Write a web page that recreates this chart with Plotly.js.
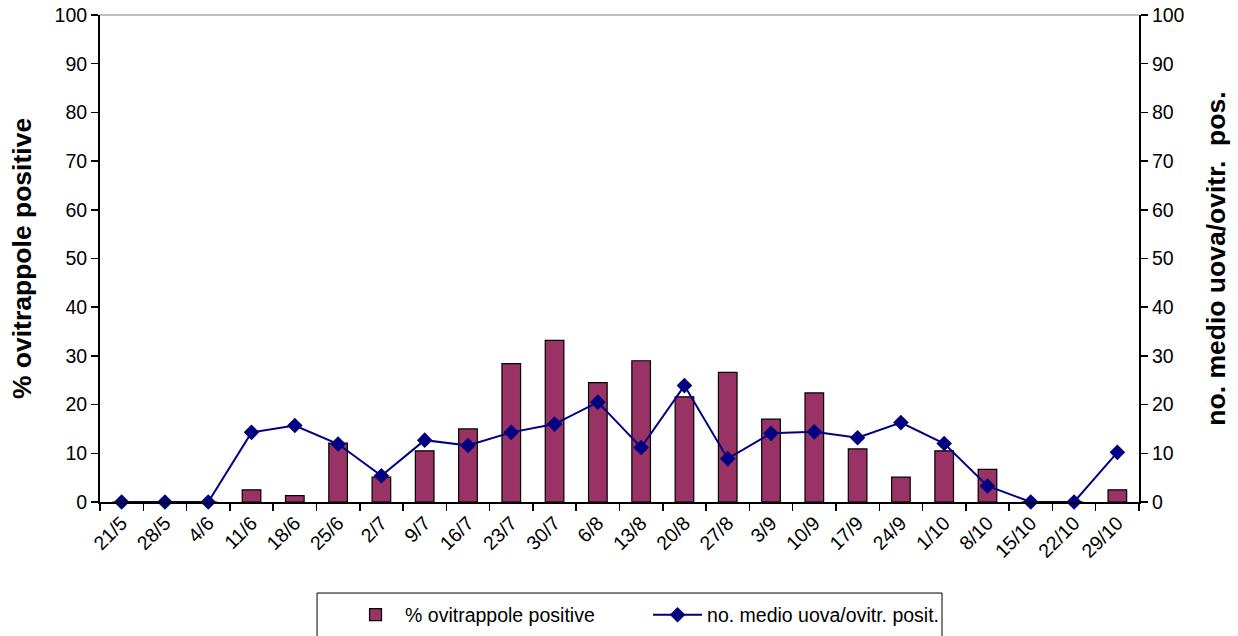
<!DOCTYPE html>
<html>
<head>
<meta charset="utf-8">
<script src="https://cdn.plot.ly/plotly-3.0.1.min.js"></script>
<style>
  html, body { margin: 0; padding: 0; background: #ffffff; }
  #chart { width: 1238px; height: 636px; }
</style>
</head>
<body>
<div id="chart"></div>
<script>
// Sampling dates (day/month)
const dates = ["21/5","28/5","4/6","11/6","18/6","25/6","2/7","9/7","16/7","23/7","30/7",
               "6/8","13/8","20/8","27/8","3/9","10/9","17/9","24/9","1/10","8/10","15/10","22/10","29/10"];
// % of positive ovitraps
const pctPositive = [0,0,0,2.5,1.3,12.1,5.1,10.5,15.0,28.4,33.2,
                     24.5,29.0,21.6,26.6,17.0,22.4,10.9,5.1,10.5,6.7,0,0,2.5];
// mean number of eggs per positive ovitrap
const meanEggs = [0,0,0,14.3,15.7,11.9,5.4,12.7,11.6,14.3,16.0,
                  20.5,11.2,23.9,8.9,14.1,14.4,13.2,16.3,12.0,3.3,0,0,10.2];
const yTicks = [0,10,20,30,40,50,60,70,80,90,100];

const font = "Liberation Sans, Arial, sans-serif";

const traces = [
  {
    type: "bar",
    name: "% ovitrappole positive",
    x: dates,
    y: pctPositive,
    marker: { color: "#993366", line: { color: "#000000", width: 1.2 } },
    yaxis: "y"
  },
  {
    type: "scatter",
    mode: "lines+markers",
    name: "no. medio uova/ovitr. posit.",
    x: dates,
    y: meanEggs,
    line: { color: "#000080", width: 2 },
    marker: { symbol: "diamond", size: 12, color: "#000080" },
    yaxis: "y2",
    cliponaxis: false
  }
];

const axisCommon = {
  ticks: "outside",
  ticklen: 7,
  tickwidth: 1.5,
  tickcolor: "#000000",
  showline: true,
  linecolor: "#000000",
  linewidth: 2,
  showgrid: false,
  automargin: false
};

const layout = {
  width: 1238,
  height: 636,
  margin: { l: 100, r: 99, t: 15, b: 134, autoexpand: false },
  paper_bgcolor: "#ffffff",
  plot_bgcolor: "#ffffff",
  font: { family: font, size: 20, color: "#000000" },
  bargap: 0.57,
  showlegend: true,
  legend: {
    orientation: "h",
    x: 0.2368, xanchor: "left",
    y: -0.192, yanchor: "top",
    borderwidth: 0,
    bgcolor: "rgba(0,0,0,0)",
    font: { family: font, size: 19.5, color: "#000000" },
    itemwidth: 49,
    entrywidth: 238
  },
  shapes: [
    // thin grey top edge of the plot area
    { type: "line", xref: "paper", yref: "paper", x0: 0, x1: 1, y0: 1, y1: 1,
      line: { color: "#808080", width: 1 } },
    // legend frame
    { type: "rect", xref: "paper", yref: "paper", x0: 0.2089, x1: 0.8104, y0: -0.1869, y1: -0.32,
      line: { color: "#000000", width: 1 }, fillcolor: "rgba(0,0,0,0)" }
  ],
  xaxis: Object.assign({}, axisCommon, {
    type: "category",
    range: [-0.5, dates.length - 0.5],
    tickangle: -45,
    tickson: "boundaries",
    tickfont: { family: font, size: 19.5 }
  }),
  yaxis: Object.assign({}, axisCommon, {
    range: [0, 100],
    tickvals: yTicks,
    zeroline: false,
    tickfont: { family: font, size: 19.5 },
    title: { text: "% ovitrappole positive", font: { family: font, size: 26.5, weight: "bold" }, standoff: 15 }
  }),
  yaxis2: Object.assign({}, axisCommon, {
    overlaying: "y",
    side: "right",
    range: [0, 100],
    tickvals: yTicks,
    zeroline: false,
    tickfont: { family: font, size: 19.5 },
    title: { text: "no. medio uova/ovitr.  pos.", font: { family: font, size: 26.5, weight: "bold" }, standoff: 23 }
  })
};

Plotly.newPlot("chart", traces, layout, { displayModeBar: false, staticPlot: true });
</script>
</body>
</html>
